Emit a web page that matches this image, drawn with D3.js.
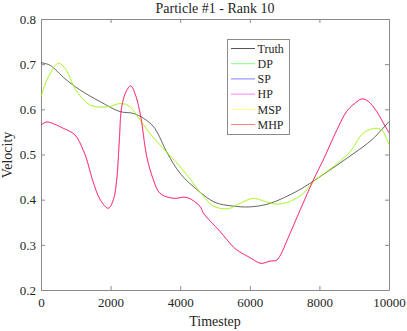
<!DOCTYPE html>
<html>
<head>
<meta charset="utf-8">
<script src="https://cdn.jsdelivr.net/npm/d3@7"></script>
<style>
  body { margin: 0; background: #fff; }
  text { font-family: "Liberation Serif", "Times New Roman", serif; fill: #262626; }
</style>
</head>
<body>
<div id="chart"></div>
<script>
// data
var truthT = [0, 250, 700, 1100, 1700, 2270, 2650, 2950, 3230, 3400, 3610, 4000, 4500, 5000, 5500, 6000, 6500, 7000, 7500, 8000, 8500, 9000, 9500, 10000];
var truthV = [0.703, 0.698, 0.667, 0.644, 0.617, 0.595, 0.591, 0.580, 0.562, 0.540, 0.506, 0.458, 0.421, 0.394, 0.386, 0.384, 0.390, 0.405, 0.425, 0.450, 0.476, 0.503, 0.532, 0.573];

var dpT = [0, 200, 500, 700, 1000, 1400, 1700, 2000, 2300, 2550, 2850, 3200, 3700, 4000, 4300, 4600, 4950, 5380, 5720, 6100, 6440, 6770, 7150, 7540, 7830, 8400, 8880, 9260, 9600, 9790, 10000];
var dpV = [0.628, 0.670, 0.702, 0.690, 0.643, 0.610, 0.605, 0.607, 0.613, 0.606, 0.576, 0.540, 0.498, 0.473, 0.444, 0.414, 0.386, 0.380, 0.392, 0.403, 0.396, 0.390, 0.396, 0.414, 0.440, 0.473, 0.506, 0.547, 0.558, 0.554, 0.522];
var mspT = dpT.slice();
var mspV = dpV.slice();

var mhpT = [0, 160, 640, 980, 1210, 1310, 1480, 1700, 1935, 2080, 2175, 2250, 2320, 2450, 2580, 2700, 2850, 3040, 3230, 3420, 3800, 4190, 4570, 4670, 5140, 5530, 5720, 6000, 6320, 6580, 6770, 6900, 7060, 7200, 7830, 8110, 8500, 8780, 9000, 9215, 9400, 9650, 9800, 10000];
var mhpV = [0.565, 0.572, 0.558, 0.543, 0.510, 0.490, 0.444, 0.400, 0.381, 0.400, 0.444, 0.530, 0.606, 0.640, 0.652, 0.635, 0.591, 0.495, 0.444, 0.414, 0.403, 0.405, 0.385, 0.370, 0.330, 0.295, 0.284, 0.272, 0.259, 0.264, 0.266, 0.280, 0.308, 0.333, 0.444, 0.488, 0.554, 0.595, 0.612, 0.623, 0.618, 0.595, 0.575, 0.548];
var hpT = mhpT.slice();
var hpV = mhpV.slice();

var xTicks = [0, 2000, 4000, 6000, 8000, 10000];
var yTicks = [0.2, 0.3, 0.4, 0.5, 0.6, 0.7, 0.8];

var series = [
  {name: "Truth", t: truthT, v: truthV, color: "#000000", opacity: 0.6},
  {name: "DP", t: dpT, v: dpV, color: "#00ff00", opacity: 0.5},
  {name: "SP", t: truthT, v: truthV, color: "#0000ff", opacity: 0.0},
  {name: "HP", t: hpT, v: hpV, color: "#ff00ff", opacity: 0.5},
  {name: "MSP", t: mspT, v: mspV, color: "#f0f000", opacity: 0.55},
  {name: "MHP", t: mhpT, v: mhpV, color: "#ff0000", opacity: 0.55}
];
var legendColors = ["#555555", "#80ff80", "#8080ff", "#ff80ff", "#ffff80", "#ff8080"];

var margin = {top: 19, right: 18, bottom: 41, left: 41},
    width = 407 - margin.left - margin.right,
    height = 331 - margin.top - margin.bottom;

var svg = d3.select("#chart")
  .append("svg")
    .attr("width", 407)
    .attr("height", 331)
  .append("g")
    .attr("transform", "translate(" + margin.left + "," + margin.top + ")");

var x = d3.scaleLinear().domain([0, 10000]).range([0, width]);
var y = d3.scaleLinear().domain([0.2, 0.8]).range([height, 0]);

// axes, ticks pointing inward on all four sides
var axisColor = "#8a8a8a";
var gx = svg.append("g")
  .attr("transform", "translate(0," + height + ")")
  .call(d3.axisBottom(x).tickValues(xTicks).tickSizeInner(-4).tickSizeOuter(0).tickPadding(8).tickFormat(d3.format("d")));
var gy = svg.append("g")
  .call(d3.axisLeft(y).tickValues(yTicks).tickSizeInner(-4).tickSizeOuter(0).tickPadding(5).tickFormat(d3.format(".1f")));
var gt = svg.append("g")
  .call(d3.axisTop(x).tickValues(xTicks).tickSizeInner(-4).tickSizeOuter(0).tickFormat(""));
var gr = svg.append("g")
  .attr("transform", "translate(" + width + ",0)")
  .call(d3.axisRight(y).tickValues(yTicks).tickSizeInner(-4).tickSizeOuter(0).tickFormat(""));

[gx, gy, gt, gr].forEach(function(g) {
  g.selectAll("path, line").attr("stroke", axisColor);
  g.selectAll("text").style("font-size", "13px").attr("fill", "#262626")
    .style("font-family", "Liberation Serif, serif");
});

// lines
var line = d3.line()
  .x(function(d) { return x(d[0]); })
  .y(function(d) { return y(d[1]); })
  .curve(d3.curveCatmullRom.alpha(0.5));

series.forEach(function(s) {
  var pts = s.t.map(function(t, i) { return [t, s.v[i]]; });
  svg.append("path")
    .datum(pts)
    .attr("fill", "none")
    .attr("stroke", s.color)
    .attr("stroke-opacity", s.opacity)
    .attr("stroke-width", 1)
    .attr("d", line);
});

// title and axis names
svg.append("text")
  .attr("x", width / 2)
  .attr("y", -6)
  .attr("text-anchor", "middle")
  .style("font-size", "14px")
  .text("Particle #1 - Rank 10");

svg.append("text")
  .attr("x", width / 2)
  .attr("y", height + 36)
  .attr("text-anchor", "middle")
  .style("font-size", "14px")
  .text("Timestep");

svg.append("text")
  .attr("transform", "rotate(-90)")
  .attr("x", -136)
  .attr("y", -29)
  .attr("text-anchor", "middle")
  .style("font-size", "14px")
  .text("Velocity");

// legend
var lg = svg.append("g").attr("transform", "translate(" + (227.5 - margin.left) + "," + (39.5 - margin.top) + ")");
lg.append("rect")
  .attr("width", 62)
  .attr("height", 95)
  .attr("fill", "#fff")
  .attr("stroke", "#8a8a8a");
series.forEach(function(s, i) {
  var yy = 9 + i * 15.2;
  lg.append("line")
    .attr("x1", 3.5).attr("x2", 27.5)
    .attr("y1", yy).attr("y2", yy)
    .attr("stroke", legendColors[i]);
  lg.append("text")
    .attr("x", 30)
    .attr("y", yy)
    .attr("dy", "0.35em")
    .style("font-size", "12px")
    .text(s.name);
});
</script>
</body>
</html>
